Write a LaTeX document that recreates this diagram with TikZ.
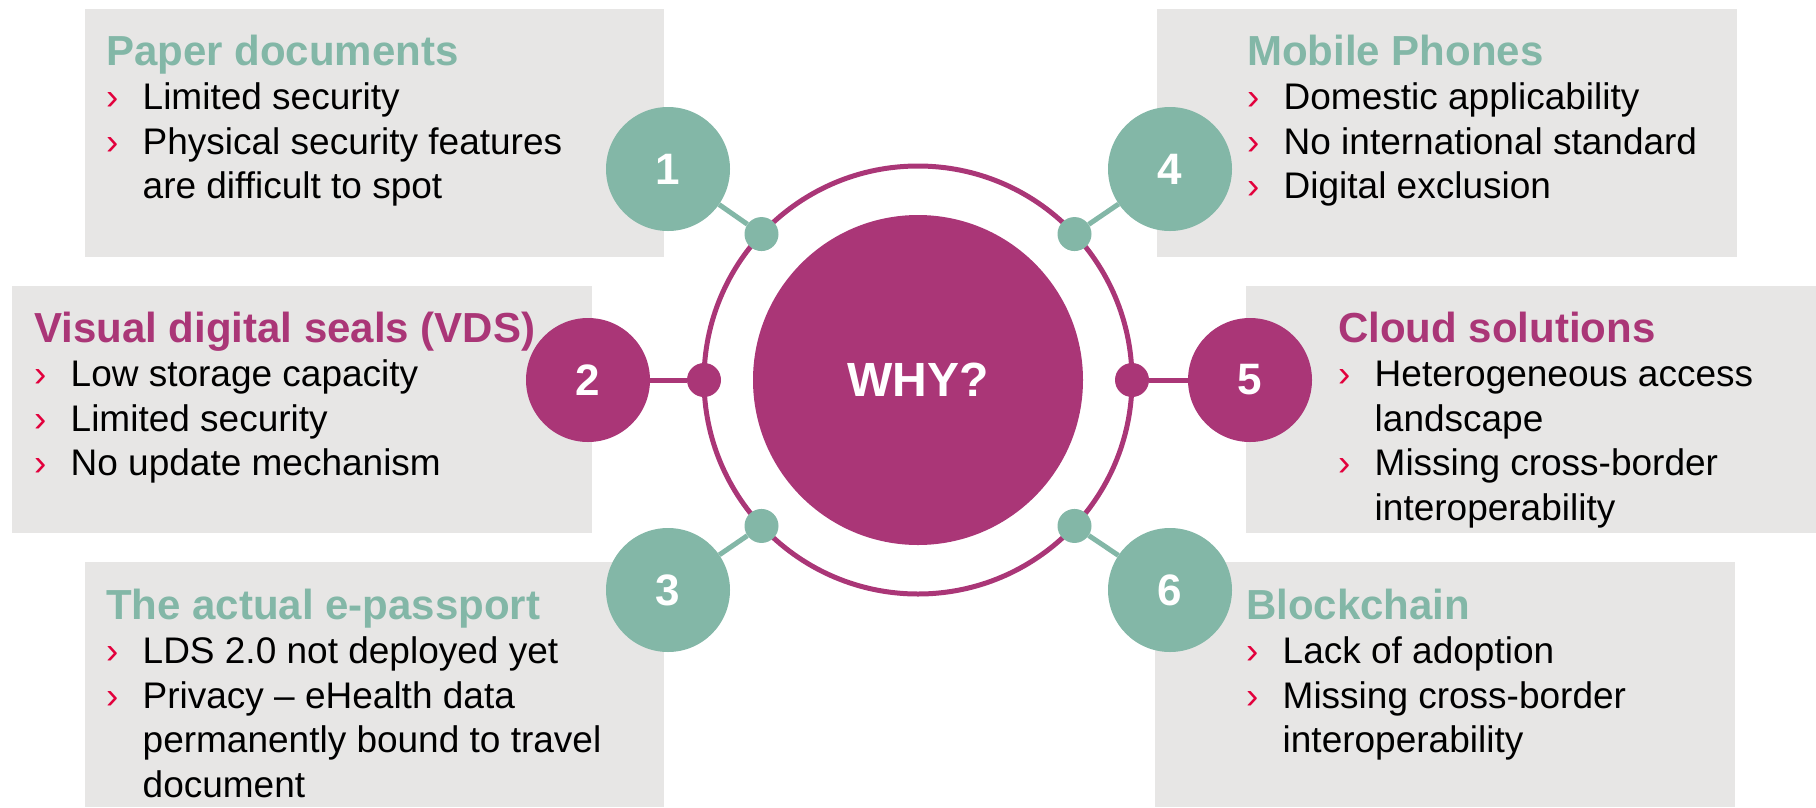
\documentclass[tikz,border=0pt]{standalone}
\usepackage{fontspec}
\setmainfont{Liberation Sans}
\usepackage{tikz}
\usetikzlibrary{positioning}

\definecolor{wteal}{HTML}{83B7A7}
\definecolor{wmag}{HTML}{AA3677}
\definecolor{wgrey}{HTML}{E7E6E5}
\definecolor{wred}{HTML}{E2003C}

\newcommand{\itm}[1]{\par\hangindent=36.5pt\hangafter=1\noindent\makebox[36.5pt][l]{\textcolor{wred}{›}}#1}
\newcommand{\paneltext}[3]{\begin{minipage}[t]{520pt}\fontsize{37}{44.6}\selectfont
  {\noindent\bfseries\fontsize{42}{44.6}\selectfont\color{#1}#2\par}#3\end{minipage}}

\begin{document}
\begin{tikzpicture}[x=1pt, y=-1pt,
	info/.style={anchor=base west, inner sep=0pt},
	num/.style={circle, minimum size=124pt, inner sep=0pt, text=white, font=\bfseries\fontsize{44}{44}\selectfont},
	dot/.style={circle, minimum size=34pt, inner sep=0pt},
	link/.style={line width=5pt}]
	\useasboundingbox (0,0) rectangle (1816,807);

	\fill[wgrey] (85,9) rectangle (664,257);
	\fill[wgrey] (12,286) rectangle (592,533);
	\fill[wgrey] (85,562) rectangle (664,807);
	\fill[wgrey] (1157,9) rectangle (1737,257);
	\fill[wgrey] (1246,286) rectangle (1816,533);
	\fill[wgrey] (1155,562) rectangle (1735,807);

	\node[info] (t1) at (106,65) {\paneltext{wteal}{Paper documents}{\itm{Limited security}\itm{Physical security features\newline are difficult to spot}}};
	\node[info] (t2) at (34,342) {\paneltext{wmag}{Visual digital seals (VDS)}{\itm{Low storage capacity}\itm{Limited security}\itm{No update mechanism}}};
	\node[info] (t3) at (106,619) {\paneltext{wteal}{The actual e-passport}{\itm{LDS 2.0 not deployed yet}\itm{Privacy – eHealth data\newline permanently bound to travel\newline document}}};
	\node[info] (t4) at (1247,65) {\paneltext{wteal}{Mobile Phones}{\itm{Domestic applicability}\itm{No international standard}\itm{Digital exclusion}}};
	\node[info] (t5) at (1338,342) {\paneltext{wmag}{Cloud solutions}{\itm{Heterogeneous access\newline landscape}\itm{Missing cross-border\newline interoperability}}};
	\node[info] (t6) at (1246,619) {\paneltext{wteal}{Blockchain}{\itm{Lack of adoption}\itm{Missing cross-border\newline interoperability}}};

	\node[circle, draw=wmag, line width=5pt, minimum size=428pt, inner sep=0pt, outer sep=0pt] (ring) at (918,380) {};
	\node[circle, fill=wmag, minimum size=330pt, inner sep=0pt, text=white, font=\bfseries\fontsize{48}{48}\selectfont] (why) at (918,380) {WHY?};

	\node[dot, fill=wteal] (d1) at (ring.137) {};
	\node[dot, fill=wmag] (d2) at (ring.180) {};
	\node[dot, fill=wteal] (d3) at (ring.223) {};
	\node[dot, fill=wteal] (d4) at (ring.43) {};
	\node[dot, fill=wmag] (d5) at (ring.0) {};
	\node[dot, fill=wteal] (d6) at (ring.317) {};

	\node[num, fill=wteal] (n1) at (668,169) {1};
	\node[num, fill=wmag] (n2) at (588,380) {2};
	\node[num, fill=wteal] (n3) at (668,590) {3};
	\node[num, fill=wteal] (n4) at (1170,169) {4};
	\node[num, fill=wmag] (n5) at (1250,380) {5};
	\node[num, fill=wteal] (n6) at (1170,590) {6};

	\draw[link, wteal] (d1) edge (n1)
	      (d3) edge (n3)
	      (d4) edge (n4)
	      (d6) edge (n6);
	\draw[link, wmag] (d2) edge (n2)
	      (d5) edge (n5);
\end{tikzpicture}
\end{document}
